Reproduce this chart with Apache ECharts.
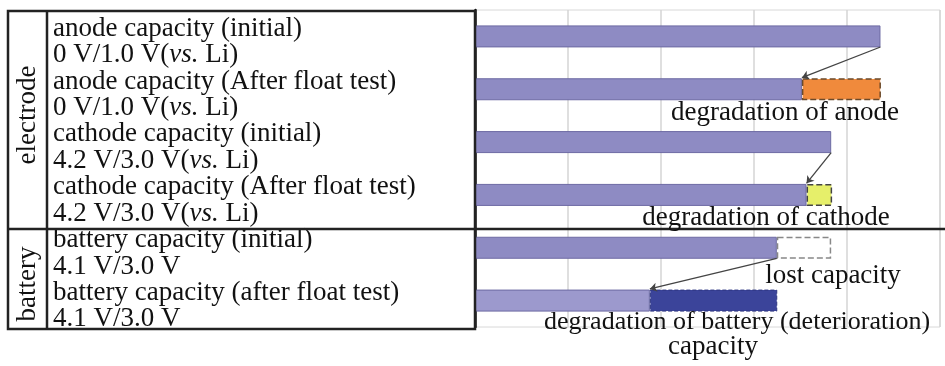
<!DOCTYPE html>
<html><head><meta charset="utf-8">
<script src="https://cdn.jsdelivr.net/npm/echarts@6/dist/echarts.min.js"></script>
<style>html,body{margin:0;padding:0;background:#fff}#c{width:945px;height:366px}</style>
</head><body><div id="c"></div>
<script>
// ---- data ----
var categories = [
  'anode capacity (initial)\n0 V/1.0 V({i|vs.} Li)',
  'anode capacity (After float test)\n0 V/1.0 V({i|vs.} Li)',
  'cathode capacity (initial)\n4.2 V/3.0 V({i|vs.} Li)',
  'cathode capacity (After float test)\n4.2 V/3.0 V({i|vs.} Li)',
  'battery capacity (initial)\n4.1 V/3.0 V',
  'battery capacity (after float test)\n4.1 V/3.0 V'
];
var groupLabels = ['electrode', 'battery'];
var remaining = [87.2, 70.3, 76.6, 71.3, 64.9, 37.6];
var anodeLoss = [null, 17.0, null, null, null, null];
var cathodeLoss = [null, null, null, 5.5, null, null];
var lostCapacity = [null, null, null, null, 11.7, null];
var batteryDegradation = [null, null, null, null, null, 27.4];
// arrows: [fromValue, fromRow, toValue, toRow]
var arrows = [
  [87.2, 0.2, 70.3, 0.78],
  [76.6, 2.2, 71.3, 2.78],
  [64.9, 4.2, 37.6, 4.78]
];
var annotations = [
  {text: 'degradation of anode', x: 785, y: 113, size: 27},
  {text: 'degradation of cathode', x: 766, y: 218, size: 27},
  {text: 'lost capacity', x: 833, y: 276, size: 27},
  {text: 'degradation of battery (deterioration)', x: 737, y: 322, size: 26},
  {text: 'capacity', x: 713, y: 347, size: 27}
];

var FONT = '"Liberation Serif", "Times New Roman", serif';
var FS = 27;
var chart = echarts.init(document.getElementById('c'));
var gridTop = 10, gridH = 317, gridL = 475, gridW = 465;

var graphics = [
  {type:'rect', shape:{x:8, y:11, width:467, height:318}, style:{fill:'none', stroke:'#222', lineWidth:2.5}, z:10},
  {type:'line', shape:{x1:47, y1:11, x2:47, y2:329}, style:{stroke:'#222', lineWidth:2.5}, z:10},
  {type:'line', shape:{x1:8, y1:229, x2:945, y2:229}, style:{stroke:'#222', lineWidth:2.5}, z:10},
  {type:'text', x:28, y:115, rotation:Math.PI/2, style:{text:groupLabels[0], font:FS + 'px ' + FONT, fill:'#111', textAlign:'center', textVerticalAlign:'middle'}, z:10},
  {type:'text', x:28, y:284, rotation:Math.PI/2, style:{text:groupLabels[1], font:FS + 'px ' + FONT, fill:'#111', textAlign:'center', textVerticalAlign:'middle'}, z:10}
];
annotations.forEach(function(a){
  graphics.push({type:'text', x:a.x, y:a.y, style:{text:a.text, font:a.size + 'px ' + FONT, fill:'#111', textAlign:'center', textVerticalAlign:'middle'}, z:20});
});

var barBase = {type:'bar', stack:'s', barWidth:22, yAxisIndex:0, xAxisIndex:0};
chart.setOption({
  animation:false,
  backgroundColor:'#fff',
  grid:{left:gridL, top:gridTop, width:gridW, height:gridH, show:true, borderColor:'#d8d8d8', borderWidth:1},
  xAxis:[{type:'value', min:0, max:100, interval:20, axisLabel:{show:false}, axisTick:{show:false}, axisLine:{show:false},
    splitLine:{show:true, lineStyle:{color:'#d4d4d4', width:1.5}}}],
  yAxis:[
    {type:'category', data:categories, inverse:true,
      axisLine:{show:true, lineStyle:{color:'#111', width:2.5}}, axisTick:{show:false},
      axisLabel:{interval:0, hideOverlap:false, align:'left', margin:422, fontFamily:FONT, fontSize:FS, lineHeight:26.5, color:'#111', padding:[11,0,0,0],
        rich:{i:{fontStyle:'italic', fontFamily:FONT, fontSize:FS, lineHeight:26.5, color:'#111'}}}},
    {type:'value', min:-0.5, max:5.5, inverse:true, show:false}
  ],
  series:[
    Object.assign({}, barBase, {name:'remaining', data:remaining.map(function(v, i){
      return {value:v, itemStyle:{color: i===5 ? '#9c99cd' : '#8e8bc3', borderColor:'#6d6aa3', borderWidth:1}};
    })}),
    Object.assign({}, barBase, {name:'anode', data:anodeLoss, itemStyle:{color:'#f08a3c', borderColor:'#6b4a2a', borderWidth:1.5, borderType:'dashed'}}),
    Object.assign({}, barBase, {name:'cathode', data:cathodeLoss, itemStyle:{color:'#e6ef6a', borderColor:'#444', borderWidth:1.5, borderType:'dashed'}}),
    Object.assign({}, barBase, {name:'lost', data:lostCapacity, itemStyle:{color:'#ffffff', borderColor:'#888', borderWidth:1.5, borderType:'dashed'}}),
    Object.assign({}, barBase, {name:'battery', data:batteryDegradation, itemStyle:{color:'#3b449a', borderColor:'#2d3580', borderWidth:1, borderType:'dashed'}}),
    {type:'lines', coordinateSystem:'cartesian2d', xAxisIndex:0, yAxisIndex:1, z:5,
      symbol:['none','arrow'], symbolSize:7,
      lineStyle:{color:'#444', width:1.3, opacity:1},
      data:arrows.map(function(a){ return {coords:[[a[0], a[1]], [a[2], a[3]]]}; })}
  ],
  graphic:graphics
});
</script></body></html>
